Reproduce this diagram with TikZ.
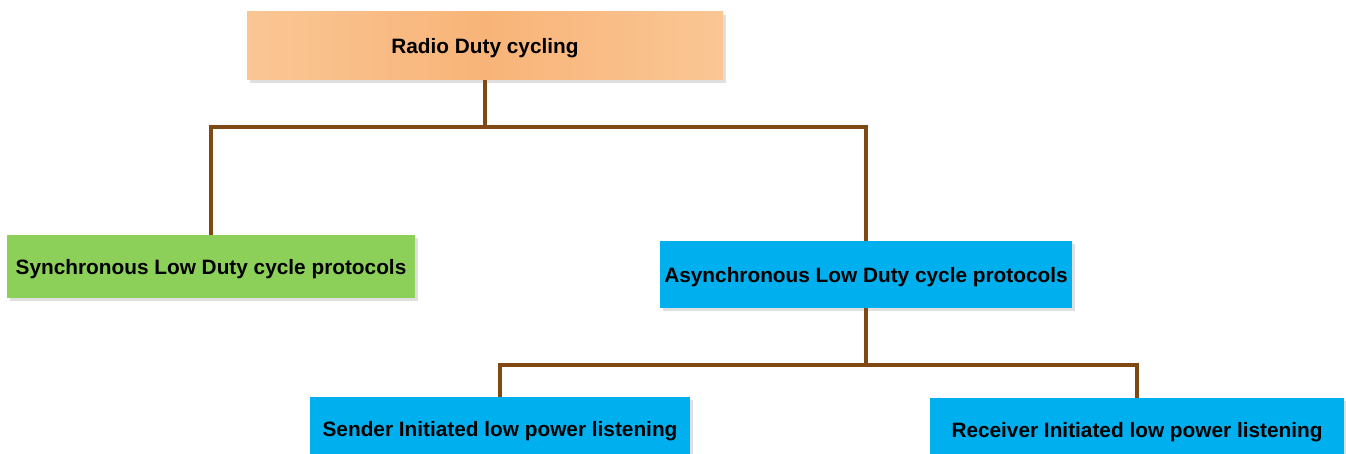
\documentclass[tikz,border=0pt]{standalone}
\usepackage{fontspec}
\setmainfont{Liberation Sans}
\usetikzlibrary{shadows}
\definecolor{rootorange}{RGB}{250,198,148}
\definecolor{rootmid}{RGB}{248,180,120}
\definecolor{syncgreen}{RGB}{140,208,90}
\definecolor{asyncblue}{RGB}{0,176,238}
\definecolor{linkbrown}{RGB}{128,72,18}
\tikzset{
  box/.style={inner sep=0pt, text depth=0pt, font=\fontsize{20.8}{24}\selectfont\bfseries,
    drop shadow={shadow xshift=3pt, shadow yshift=-3pt, opacity=0.25, fill=gray}},
  link/.style={draw=linkbrown, line width=4.8pt}
}
\begin{document}
\begin{tikzpicture}[x=1pt,y=-1pt]
    \useasboundingbox (0,0) rectangle (1346,454);
    % Boxes %
    \node[box, left color=rootorange, right color=rootorange, middle color=rootmid,
          minimum width=476pt, minimum height=68pt] (root) at (485,46) {Radio Duty cycling};
    \node[box, fill=syncgreen, minimum width=408pt, minimum height=63pt] (sync) at (211,266.5) {Synchronous Low Duty cycle protocols};
    \node[box, fill=asyncblue, minimum width=412pt, minimum height=67pt] (async) at (866,274.5) {Asynchronous Low Duty cycle protocols};
    \node[box, fill=asyncblue, minimum width=380pt, minimum height=63pt] (sender) at (500,428.5) {Sender Initiated low power listening};
    \node[box, fill=asyncblue, minimum width=414pt, minimum height=63pt] (receiver) at (1137,429.5) {Receiver Initiated low power listening};

    % Connectors %
    \coordinate (top) at (485,127);
    \coordinate (low) at (866,365);
    \draw[link] (root.south) -- (top);
    \draw[link] (sync.north) |- (top) -| (async.north);
    \draw[link] (async.south) -- (low);
    \draw[link] (sender.north) |- (low) -| (receiver.north);
\end{tikzpicture}
\end{document}
